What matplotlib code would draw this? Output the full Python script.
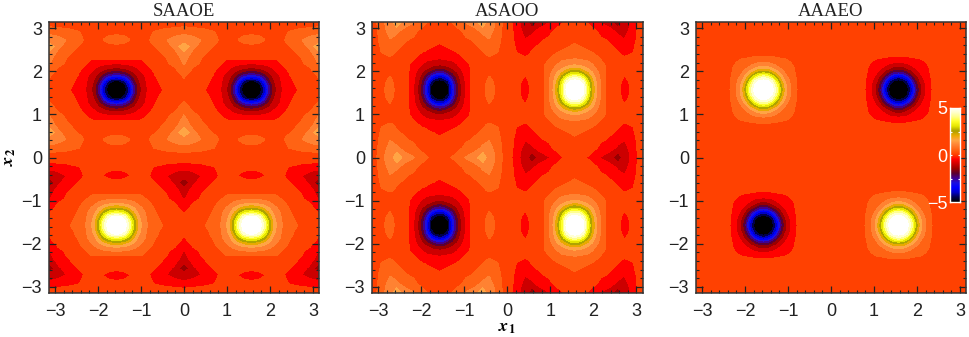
import numpy as np
import matplotlib
matplotlib.use("Agg")
import matplotlib.pyplot as plt
from matplotlib.colors import LinearSegmentedColormap
from matplotlib.ticker import MultipleLocator

plt.rcParams['font.family'] = 'Liberation Sans'
plt.rcParams['mathtext.fontset'] = 'stix'

# Distance from the peak line x = pi/2 (or y = pi/2), the pictures mirror around it
dist = [0, .1, .2, .3, .4, .5, .6, .7, .8, .9, 1.0, 1.15, 1.35, 1.45, 1.57]

# Values, upper quadrant: rows go with dist in y, columns with dist in x
saaoe_q = [
    [-5.6, -5.4, -5.0, -4.1, -2.75, -1.75, -1.1, -.78, -.6, -.47, -.33, -.17, -.06, .02, .1],
    [-5.4, -5.25, -4.85, -3.9, -2.6, -1.65, -1.05, -.76, -.58, -.44, -.27, -.13, -.03, .05, .12],
    [-4.85, -4.75, -4.25, -3.2, -2.15, -1.4, -.97, -.72, -.55, -.38, -.2, -.1, .0, .1, .2],
    [-3.4, -3.3, -2.95, -2.4, -1.75, -1.2, -.9, -.68, -.46, -.27, -.15, -.06, .04, .15, .28],
    [-2.2, -2.1, -1.9, -1.6, -1.3, -.98, -.75, -.58, -.36, -.2, -.1, .0, .12, .25, .43],
    [-1.3, -1.27, -1.17, -1.05, -.9, -.72, -.55, -.38, -.25, -.12, -.02, .1, .22, .38, .6],
    [-.75, -.74, -.7, -.65, -.58, -.48, -.35, -.25, -.12, -.02, .07, .18, .36, .55, .78],
    [-.27, -.27, -.27, -.27, -.27, -.27, -.24, -.13, -.05, .02, .12, .22, .48, .62, .95],
    [-.1, -.1, -.1, -.1, -.1, -.08, -.05, .0, .05, .1, .18, .3, .55, .75, 1.1],
    [.05, .05, .05, .05, .06, .08, .1, .13, .17, .2, .25, .42, .68, 1.0, 1.3],
    [.2, .2, .18, .14, .12, .13, .15, .18, .22, .25, .34, .55, .85, 1.25, 1.42],
    [.33, .32, .3, .26, .18, .14, .16, .2, .27, .36, .5, .72, .95, 1.05, 1.1],
    [.2, .2, .19, .17, .15, .15, .15, .18, .22, .27, .31, .39, .46, .52, .55],
    [.1, .1, .1, .09, .08, .08, .08, .09, .11, .13, .15, .19, .22, .24, .28],
    [0, 0, 0, 0, 0, 0, 0, 0, 0, 0, 0, 0, 0, 0, 0],
]

# Same for the AAAEO panel, only the bump around the peak
aaaeo_q = [
    [-5.6, -5.4, -5.0, -4.1, -2.6, -1.55, -.9, -.45, -.2, -.09, -.04, -.01, 0, 0, 0],
    [-5.4, -5.25, -4.85, -3.85, -2.5, -1.47, -.87, -.44, -.19, -.08, -.03, -.01, 0, 0, 0],
    [-5.0, -4.85, -4.3, -3.2, -2.0, -1.25, -.78, -.41, -.18, -.08, -.03, -.01, 0, 0, 0],
    [-4.1, -3.85, -3.2, -2.35, -1.55, -.98, -.6, -.35, -.16, -.07, -.03, -.01, 0, 0, 0],
    [-2.6, -2.5, -2.0, -1.55, -1.05, -.72, -.48, -.3, -.15, -.06, -.02, -.01, 0, 0, 0],
    [-1.55, -1.47, -1.25, -.98, -.72, -.47, -.36, -.27, -.14, -.05, -.02, 0, 0, 0, 0],
    [-.9, -.87, -.78, -.6, -.48, -.36, -.3, -.22, -.12, -.05, -.02, 0, 0, 0, 0],
    [-.45, -.44, -.41, -.35, -.3, -.27, -.22, -.14, -.08, -.03, -.01, 0, 0, 0, 0],
    [-.2, -.19, -.18, -.16, -.15, -.14, -.12, -.08, -.04, -.02, 0, 0, 0, 0, 0],
    [-.09, -.08, -.08, -.07, -.06, -.05, -.05, -.03, -.02, -.01, 0, 0, 0, 0, 0],
    [-.04, -.03, -.03, -.03, -.02, -.02, -.02, -.01, 0, 0, 0, 0, 0, 0, 0],
    [-.01, -.01, -.01, -.01, -.01, 0, 0, 0, 0, 0, 0, 0, 0, 0, 0],
    [0, 0, 0, 0, 0, 0, 0, 0, 0, 0, 0, 0, 0, 0, 0],
    [0, 0, 0, 0, 0, 0, 0, 0, 0, 0, 0, 0, 0, 0, 0],
    [0, 0, 0, 0, 0, 0, 0, 0, 0, 0, 0, 0, 0, 0, 0],
]

titulos = ["SAAOE", "ASAOO", "AAAEO"]
tick_vals = [-3, -2, -1, 0, 1, 2, 3]
tick_labels = ["\u22123", "\u22122", "\u22121", "0", "1", "2", "3"]
niveles = [-6, -4.75, -4.25, -3.75, -3.25, -2.75, -2.25, -1.75, -1.25, -.75, -.25,
           .25, .75, 1.25, 1.75, 2.25, 2.75, 3.25, 3.75, 4.25, 4.75, 6]

# Colour bar of the figure, from -5 to 5
colores = ["#000000", "#000050", "#0000c8", "#0000ff", "#1a10e0", "#400090", "#5a0030",
           "#990000", "#cc0000", "#ff0000", "#ff4000", "#ff6414", "#ff8232", "#ffa546",
           "#ebaa00", "#aaa000", "#e6e600", "#ffff28", "#ffff8c", "#ffffd2", "#ffffff"]
cmap = LinearSegmentedColormap.from_list("rojos", colores, N=256)

# Grid nodes over the whole range, seams kept once
d = np.array(dist)
nodos = np.concatenate([-np.pi / 2 - d[::-1], -np.pi / 2 + d[1:], np.pi / 2 - d[-2::-1], np.pi / 2 + d[1:]])


def extiende_x(q):
    # Mirror the columns around x = 0 and x = +-pi/2
    return np.hstack([q[:, ::-1], q[:, 1:], q[:, -2::-1], q[:, 1:]])


def extiende_y(f):
    # Same in y, the lower half has the opposite sign
    return np.vstack([-f[::-1], -f[1:], f[-2::-1], f[1:]])


q1 = np.array(saaoe_q)
q3 = np.array(aaaeo_q)

# SAAOE
campo1 = extiende_y(extiende_x(q1))

# ASAOO: the SAAOE picture turned by a quarter
campo2 = campo1.T[:, ::-1]

# AAAEO: sign also changes across x = 0
f3 = extiende_x(q3)
n = len(dist)
f3[:, :2 * n - 1] = -f3[:, :2 * n - 1]
campo3 = extiende_y(f3)

campos = [campo1, campo2, campo3]

fig = plt.figure(figsize=(9.69, 3.37), dpi=100)
W, H = 969.0, 337.0
posiciones = [(49, 319), (372, 642.5), (696, 966)]

for i in range(3):
    x0, x1 = posiciones[i]
    ax = fig.add_axes([x0 / W, 1 - 293 / H, (x1 - x0) / W, 271 / H])
    ax.contourf(nodos, nodos, campos[i], levels=niveles, cmap=cmap, vmin=-5, vmax=5)
    ax.set_xlim(-np.pi, np.pi)
    ax.set_ylim(-np.pi, np.pi)
    ax.set_xticks(tick_vals)
    ax.set_xticklabels(tick_labels)
    ax.set_yticks(tick_vals)
    ax.set_yticklabels(tick_labels)
    ax.xaxis.set_minor_locator(MultipleLocator(0.2))
    ax.yaxis.set_minor_locator(MultipleLocator(0.2))
    ax.tick_params(which='major', direction='in', top=True, right=True, length=5, width=0.9,
                   labelsize=13, colors='#222222')
    ax.tick_params(axis='x', which='major', pad=7)
    ax.tick_params(axis='y', which='major', pad=5)
    ax.tick_params(which='minor', direction='in', top=True, right=True, length=2.5, width=0.8,
                   colors='#222222')
    for lado in ax.spines.values():
        lado.set_linewidth(1.1)
        lado.set_color('#333333')
    ax.set_title(titulos[i], family='Liberation Serif', fontsize=13.5, pad=4, color='#222222')

# Axis names, placed by hand so they stay inside the figure
fig.text(507 / W, 1 - 328 / H, r"$\mathbfit{x}_{\mathbf{1}}$", fontsize=13, ha='center', va='center')
fig.text(9 / W, 1 - 157 / H, r"$\mathbfit{x}_{\mathbf{2}}$", fontsize=13, ha='center', va='center', rotation=90)

# Small colour bar inside the third panel
cax = fig.add_axes([950 / W, 1 - 202 / H, 10 / W, 94 / H])
barra = np.linspace(-5, 5, 256).reshape(-1, 1)
cax.imshow(barra, origin='lower', extent=[0, 1, -5, 5], aspect='auto', cmap=cmap, vmin=-5, vmax=5)
cax.set_xticks([])
cax.set_yticks([-5, -2.5, 0, 2.5, 5])
cax.set_yticklabels(["\u22125", "", "0", "", "5"])
cax.tick_params(axis='y', direction='in', left=True, right=True, length=1.5, width=0.8,
                color='white', labelcolor='white', labelsize=13, pad=2)
for lado in cax.spines.values():
    lado.set_color('white')
    lado.set_linewidth(1.0)

plt.savefig("out.png", dpi=100)
plt.close()
